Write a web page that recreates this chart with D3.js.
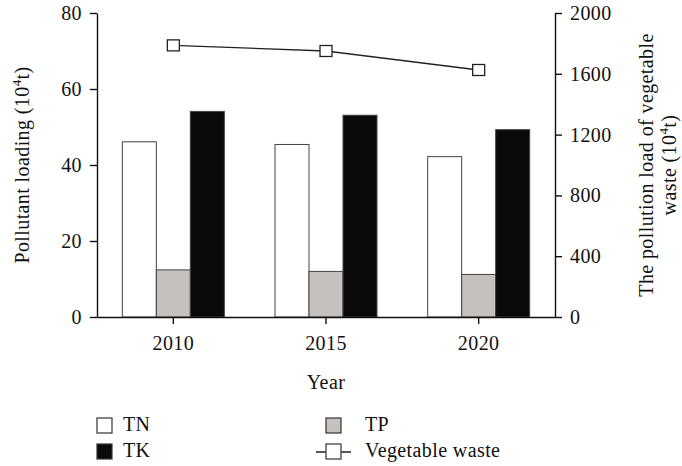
<!DOCTYPE html>
<html><head><meta charset="utf-8">
<script src="https://cdn.jsdelivr.net/npm/d3@7"></script>
<style>body{margin:0;background:#fff}svg{display:block}text{font-family:"Liberation Serif","DejaVu Serif",serif;fill:#111;letter-spacing:0.4px}</style>
</head><body>
<script>
const years = ["2010", "2015", "2020"];
const seriesNames = ["TN", "TP", "TK"];
const TN = [46.1, 45.4, 42.2];
const TP = [12.4, 12.0, 11.2];
const TK = [54.1, 53.1, 49.3];
const vegetableWaste = [1787, 1750, 1625];
const leftTicks = [0, 20, 40, 60, 80];
const rightTicks = [0, 400, 800, 1200, 1600, 2000];
const fills = {TN: "#ffffff", TP: "#c4c1bf", TK: "#0a0a08"};

const W = 682, H = 466;
const m = {l: 97, r: 555, t: 13, b: 317};
const FS = "20px";
const svg = d3.select("body").append("svg").attr("width", W).attr("height", H);

const x = d3.scaleBand().domain(years).range([m.l, m.r]);
const xs = d3.scaleBand().domain(seriesNames).range([0, 102]);
const yL = d3.scaleLinear().domain([0, 80]).range([m.b, m.t]);
const yR = d3.scaleLinear().domain([0, 2000]).range([m.b, m.t]);

const vals = {TN, TP, TK};
const g = svg.append("g");
years.forEach((yr, i) => {
  seriesNames.forEach(s => {
    g.append("rect")
      .attr("x", x(yr) + x.bandwidth() / 2 - 51 + xs(s))
      .attr("y", yL(vals[s][i]))
      .attr("width", xs.bandwidth())
      .attr("height", yL(0) - yL(vals[s][i]))
      .attr("fill", fills[s])
      .attr("stroke", "#444").attr("stroke-width", 1);
  });
});

// line
const line = d3.line().x((d, i) => x(years[i]) + x.bandwidth() / 2).y(d => yR(d));
svg.append("path").datum(vegetableWaste).attr("d", line)
  .attr("fill", "none").attr("stroke", "#222").attr("stroke-width", 1.3);
svg.selectAll(".mk").data(vegetableWaste).enter().append("rect")
  .attr("x", (d, i) => x(years[i]) + x.bandwidth() / 2 - 6)
  .attr("y", d => yR(d) - 5.5).attr("width", 12).attr("height", 11)
  .attr("fill", "#fff").attr("stroke", "#222").attr("stroke-width", 1.3);

function styleAxis(sel) {
  sel.selectAll("path,line").attr("stroke", "#111").attr("stroke-width", 1.4);
  sel.selectAll("text").style("font-size", FS).attr("fill", "#111");
}
svg.append("g").attr("transform", `translate(${m.l},0)`)
  .call(d3.axisLeft(yL).tickValues(leftTicks).tickFormat(d3.format("d")).tickSize(7).tickSizeOuter(0).tickPadding(8))
  .call(styleAxis);
svg.append("g").attr("transform", `translate(${m.r},0)`)
  .call(d3.axisRight(yR).tickValues(rightTicks).tickFormat(d3.format("d")).tickSize(7).tickSizeOuter(0).tickPadding(8))
  .call(styleAxis);
svg.append("g").attr("transform", `translate(0,${m.b})`)
  .call(d3.axisBottom(x).tickSize(7).tickSizeOuter(0).tickPadding(12))
  .call(styleAxis);

// titles
const lt = svg.append("text").attr("transform", `translate(29,${(m.t + m.b) / 2}) rotate(-90)`)
  .attr("text-anchor", "middle").style("font-size", FS);
lt.append("tspan").text("Pollutant loading (10");
lt.append("tspan").text("4").attr("dy", -8).style("font-size", "13px");
lt.append("tspan").text("t)").attr("dy", 8);

const rt = svg.append("g").attr("transform", `translate(653,${(m.t + m.b) / 2}) rotate(-90)`);
rt.append("text").attr("text-anchor", "middle").style("font-size", FS).text("The pollution load of vegetable");
const rt2 = rt.append("text").attr("text-anchor", "middle").attr("y", 23).style("font-size", FS);
rt2.append("tspan").text("waste (10");
rt2.append("tspan").text("4").attr("dy", -8).style("font-size", "13px");
rt2.append("tspan").text("t)").attr("dy", 8);

svg.append("text").attr("x", (m.l + m.r) / 2).attr("y", 389).attr("text-anchor", "middle")
  .style("font-size", FS).text("Year");

// legend
const leg = [
  {name: "TN", type: "bar", fill: fills.TN, x: 97, y: 418},
  {name: "TK", type: "bar", fill: fills.TK, x: 97, y: 444},
  {name: "TP", type: "bar", fill: fills.TP, x: 326, y: 418},
  {name: "Vegetable waste", type: "line", fill: "#fff", x: 326, y: 444}
];
leg.forEach(d => {
  if (d.type === "line") {
    svg.append("line").attr("x1", d.x - 10).attr("x2", d.x + 25).attr("y1", d.y + 8).attr("y2", d.y + 8)
      .attr("stroke", "#222").attr("stroke-width", 1.3);
  }
  svg.append("rect").attr("x", d.x).attr("y", d.y).attr("width", 15).attr("height", 15)
    .attr("fill", d.fill).attr("stroke", "#333").attr("stroke-width", 1.2);
  svg.append("text").attr("x", d.x + (d.type === "line" || d.name === "TP" ? 39 : 26)).attr("y", d.y + 13)
    .style("font-size", FS).text(d.name);
});
</script>
</body></html>
